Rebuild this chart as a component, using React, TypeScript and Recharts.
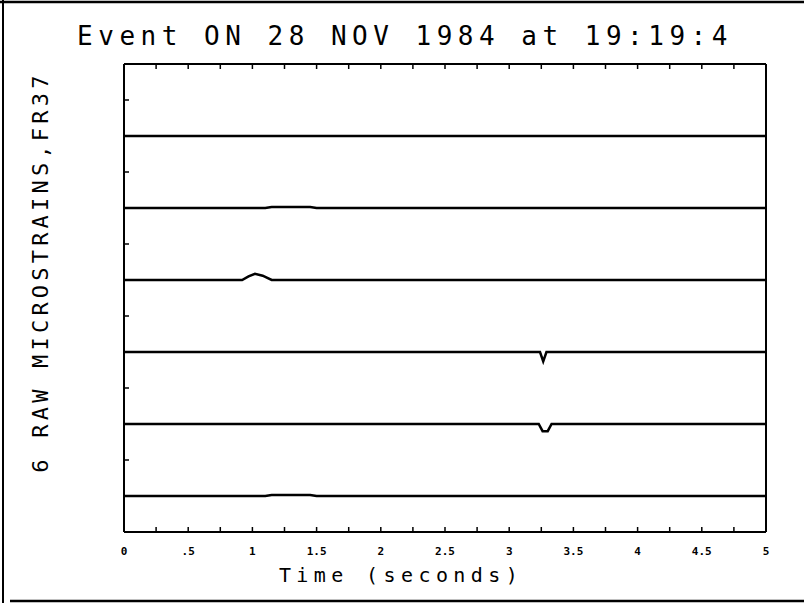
import React from "react";
import { LineChart, Line, XAxis, YAxis } from "recharts";

// time axis (seconds)
const timeTicks = [0, 0.25, 0.5, 0.75, 1, 1.25, 1.5, 1.75, 2, 2.25, 2.5, 2.75, 3, 3.25, 3.5, 3.75, 4, 4.25, 4.5, 4.75, 5];
const timeLabels = ["0", ".5", "1", "1.5", "2", "2.5", "3", "3.5", "4", "4.5", "5"];
const bandTicks = [0.5, 1.5, 2.5, 3.5, 4.5, 5.5];

// six gauges, each drawn on its own baseline (top to bottom)
const channelNames = ["ch1", "ch2", "ch3", "ch4", "ch5", "ch6"];
const channelOffsets = [5, 4, 3, 2, 1, 0];

// [time, deviation]
const ch1 = [[0, 0], [5, 0]];
const ch2 = [[0, 0], [1.1, 0], [1.15, 0.015], [1.45, 0.015], [1.5, 0], [5, 0]];
const ch3 = [[0, 0], [0.92, 0], [0.97, 0.05], [1.02, 0.085], [1.08, 0.06], [1.15, 0], [5, 0]];
const ch4 = [[0, 0], [3.24, 0], [3.265, -0.13], [3.29, 0], [5, 0]];
const ch5 = [[0, 0], [3.23, 0], [3.26, -0.1], [3.3, -0.1], [3.33, 0], [5, 0]];
const ch6 = [[0, 0], [1.1, 0], [1.15, 0.015], [1.45, 0.015], [1.5, 0], [5, 0]];

const channels = [ch1, ch2, ch3, ch4, ch5, ch6];

const series = channels.map((pts, i) =>
  pts.map(([t, d]) => ({ t, v: channelOffsets[i] + d }))
);

const FONT = "DejaVu Sans Mono";

const isMajor = (v: number) => Math.abs(v * 2 - Math.round(v * 2)) < 1e-6;

const BottomTick = (props: any) => {
  const { x, y, payload } = props;
  const v = payload.value as number;
  return (
    <g>
      <line x1={x} x2={x} y1={y} y2={y - 5} stroke="#000" strokeWidth={1.5} />
      {isMajor(v) && (
        <text
          x={x}
          y={y + 23}
          textAnchor="middle"
          fontSize={11}
          fontWeight="bold"
          fontFamily={FONT}
          fill="#000"
        >
          {timeLabels[Math.round(v * 2)]}
        </text>
      )}
    </g>
  );
};

const TopTick = (props: any) => {
  const { x, y } = props;
  return <line x1={x} x2={x} y1={y} y2={y + 5} stroke="#000" strokeWidth={1.5} />;
};

const LeftTick = (props: any) => {
  const { x, y } = props;
  return <line x1={x} x2={x + 5} y1={y} y2={y} stroke="#000" strokeWidth={1.5} />;
};

const RightTick = (props: any) => {
  const { x, y } = props;
  return <line x1={x} x2={x - 5} y1={y} y2={y} stroke="#000" strokeWidth={1.5} />;
};

const axisLine = { stroke: "#000", strokeWidth: 2 };

export default function App() {
  return (
    <div style={{ position: "absolute", left: 0, top: 0, width: 804, height: 603, background: "#fff" }}>
      <LineChart width={804} height={603} data={series[0]} margin={{ top: 0, right: 0, bottom: 0, left: 0 }}>
        <XAxis
          xAxisId="bottom"
          dataKey="t"
          type="number"
          domain={[0, 5]}
          ticks={timeTicks}
          interval={0}
          height={71}
          tickSize={0}
          tickMargin={0}
          axisLine={axisLine}
          tick={<BottomTick />}
        />
        <XAxis
          xAxisId="top"
          orientation="top"
          dataKey="t"
          type="number"
          domain={[0, 5]}
          ticks={timeTicks}
          interval={0}
          height={64}
          tickSize={0}
          tickMargin={0}
          axisLine={axisLine}
          tick={<TopTick />}
        />
        <YAxis
          yAxisId="left"
          type="number"
          domain={[-0.5, 6]}
          ticks={bandTicks}
          interval={0}
          width={124}
          tickSize={0}
          tickMargin={0}
          axisLine={axisLine}
          tick={<LeftTick />}
        />
        <YAxis
          yAxisId="right"
          orientation="right"
          type="number"
          domain={[-0.5, 6]}
          ticks={bandTicks}
          interval={0}
          width={38}
          tickSize={0}
          tickMargin={0}
          axisLine={axisLine}
          tick={<RightTick />}
        />
        {series.map((d, i) => (
          <Line
            key={channelNames[i]}
            name={channelNames[i]}
            data={d}
            dataKey="v"
            xAxisId="bottom"
            yAxisId="left"
            type="linear"
            stroke="#000"
            strokeWidth={2.5}
            dot={false}
            activeDot={false}
            isAnimationActive={false}
          />
        ))}
      </LineChart>
      <svg
        width={804}
        height={603}
        style={{ position: "absolute", left: 0, top: 0, pointerEvents: "none" }}
      >
        <line x1={0} x2={804} y1={2} y2={2} stroke="#000" strokeWidth={2.5} />
        <line x1={3} x2={3} y1={0} y2={603} stroke="#000" strokeWidth={2} />
        <line x1={10} x2={804} y1={601} y2={601} stroke="#000" strokeWidth={2.5} />
        <text
          x={405}
          y={45}
          textAnchor="middle"
          fontSize={26}
          letterSpacing={5.5}
          fontFamily={FONT}
          fill="#000"
        >
          Event ON 28 NOV 1984 at 19:19:4
        </text>
        <text
          transform="translate(48,272) rotate(-90)"
          textAnchor="middle"
          fontSize={22}
          letterSpacing={4.2}
          fontFamily={FONT}
          fill="#000"
        >
          6 RAW MICROSTRAINS,FR37
        </text>
        <text
          x={401}
          y={582}
          textAnchor="middle"
          fontSize={20}
          letterSpacing={5.4}
          fontFamily={FONT}
          fill="#000"
        >
          Time (seconds)
        </text>
      </svg>
    </div>
  );
}
